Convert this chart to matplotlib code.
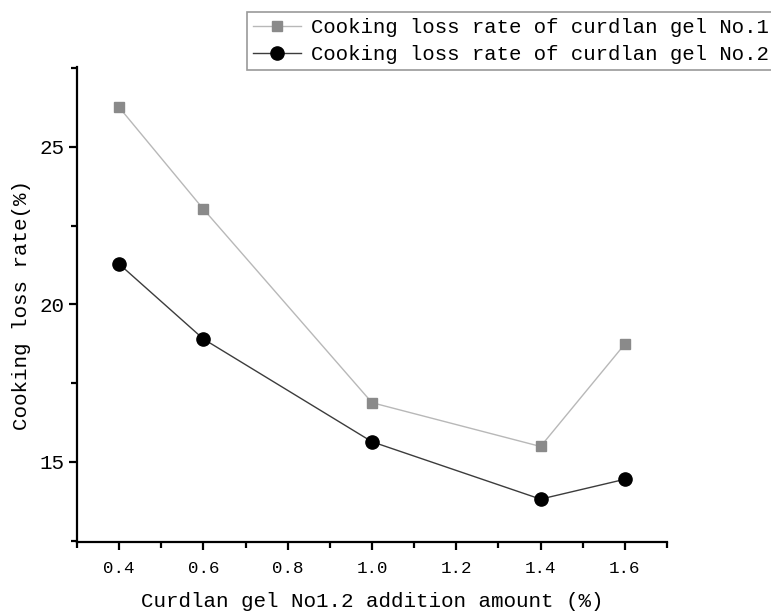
import matplotlib
matplotlib.use('Agg')
import matplotlib.pyplot as plt
from matplotlib.ticker import MultipleLocator

plt.rcParams['font.family'] = ['Liberation Mono', 'DejaVu Sans Mono']

# addition amount (%) and cooking loss (%) for the two gels
amount = [0.4, 0.6, 1.0, 1.4, 1.6]
loss_no1 = [26.25, 23.02, 16.88, 15.49, 18.74]
loss_no2 = [21.28, 18.90, 15.64, 13.82, 14.45]

fig = plt.figure(figsize=(7.71, 6.12), dpi=100)
ax = fig.add_axes([77/771, 1-542/612, (667-77)/771, (542-67)/612])

ax.plot(amount, loss_no1, color='#b8b8b8', lw=1.0, marker='s', ms=7.5,
        mfc='#8a8a8a', mec='#8a8a8a', label='Cooking loss rate of curdlan gel No.1')
ax.plot(amount, loss_no2, color='#3c3c3c', lw=1.0, marker='o', ms=9.5,
        mfc='black', mec='black', label='Cooking loss rate of curdlan gel No.2')

ax.set_xlim(0.3, 1.7)
ax.set_ylim(12.46, 27.53)
ax.xaxis.set_major_locator(MultipleLocator(0.2))
ax.xaxis.set_minor_locator(MultipleLocator(0.1))
ax.yaxis.set_major_locator(MultipleLocator(5))
ax.yaxis.set_minor_locator(MultipleLocator(2.5))
ax.xaxis.set_major_formatter(plt.FuncFormatter(lambda v, p: '%.1f' % v))

for s in ['top', 'right']:
    ax.spines[s].set_visible(False)
for s in ['left', 'bottom']:
    ax.spines[s].set_linewidth(1.6)
ax.tick_params(which='major', direction='out', length=6, width=1.6)
ax.tick_params(which='minor', direction='out', length=4, width=1.6)
ax.tick_params(axis='x', which='major', labelsize=12.6, pad=8)
ax.tick_params(axis='y', which='major', labelsize=15, pad=3)

ax.set_xlabel('Curdlan gel No1.2 addition amount (%)', fontsize=15, labelpad=11)
ax.set_ylabel('Cooking loss rate(%)', fontsize=15, labelpad=6)

# legend box runs off the right edge of the figure
leg = fig.legend(loc='upper left', bbox_to_anchor=(247/771, 1-12/612), borderaxespad=0,
                 fontsize=14.9, frameon=True, fancybox=False, handlelength=2.3,
                 handletextpad=0.5, borderpad=0.3, labelspacing=0.38)
leg.get_frame().set_edgecolor('#808080')
leg.get_frame().set_linewidth(1.2)

fig.savefig('out.png', dpi=100)
